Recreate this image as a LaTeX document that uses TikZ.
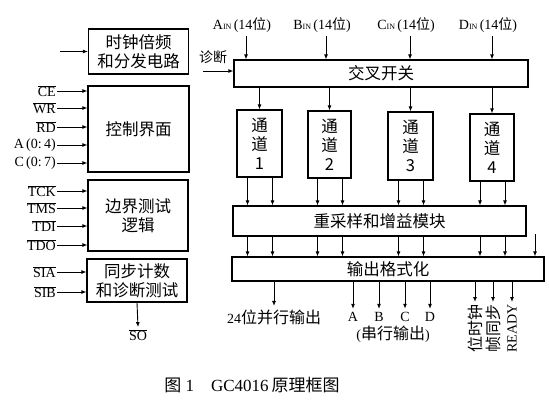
\documentclass[tikz,border=0pt]{standalone}
\usepackage{fontspec}
\setmainfont{Liberation Serif}
\newfontfamily\cjk{Noto Sans CJK SC}
\usetikzlibrary{arrows.meta, positioning, calc}
\newcommand{\ovl}[1]{$\overline{\mbox{#1}}$}

\begin{document}
\begin{tikzpicture}[x=1pt, y=-1pt, font=\fontsize{14}{16}\selectfont,
  blk/.style={draw, line width=1.2pt, font=\cjk\fontsize{16.5}{19}\selectfont, align=center, inner sep=0pt},
  zh/.style={font=\cjk\fontsize{14}{16}\selectfont},
  sig/.style={-{Latex[length=5pt,width=4pt]}, line width=0.9pt}]
\useasboundingbox (0,0) rectangle (549,404);

% left column
\node[blk, minimum width=100pt, minimum height=45pt] (clk) at (138.5,51.5) {时钟倍频\\和分发电路};
\node[blk, minimum width=101pt, minimum height=86pt] (ctrl) at (138.5,129) {控制界面};
\node[blk, minimum width=100pt, minimum height=71pt] (jtag) at (138,215.5) {边界测试\\逻辑};
\node[blk, minimum width=100pt, minimum height=43pt] (sync) at (137,280.5) {同步计数\\和诊断测试};

\coordinate (clkin) at (60,51.5);
\draw[sig] (clkin) -- (clk.west);
\foreach \n/\y/\t/\b in {ce/91/\ovl{CE}/ctrl, wr/108/\ovl{WR}/ctrl, rd/127/\ovl{RD}/ctrl,
    aa/145/A\,(0:\,4)/ctrl, cc/163/C\,(0:\,7)/ctrl,
    tck/191/\ovl{TCK}/jtag, tms/208/\ovl{TMS}/jtag, tdi/226/\ovl{TDI}/jtag, tdo/245/\ovl{TDO}/jtag,
    sia/272/\ovl{SIA}/sync, sib/292/\ovl{SIB}/sync} {
  \node[anchor=east, inner sep=1pt] (\n) at (57,\y) {\t};
  \draw[sig] (\n.east) -- (\b.west |- \n.east);
}
\node[inner sep=2pt] (so) at (138,335) {\ovl{SO}};
\draw[sig] (sync.south) -- (so.north);

% crossbar and channels
\node[blk, minimum width=294pt, minimum height=27pt] (xbar) at (381,73.5) {交叉开关};
\node[zh] (diag) at (213,57) {诊断};
\coordinate (diagin) at (203,71);
\draw[sig] (diagin) -- (xbar.west |- diagin);

\foreach \n/\x/\l in {ain/242/A, bin/322/B, cin/406/C, din/488/D} {
  \node (\n) at (\x,25) {\l{\footnotesize IN}\,(14{\cjk 位})};
  \draw[sig] ([xshift=4pt]\n.south) -- ([xshift=4pt]\n.south |- xbar.north);
}

\node[blk, minimum width=45pt, minimum height=67pt] (ch1) at (259.5,143.5) {通\\道\\1};
\node[blk, minimum width=43pt, minimum height=67pt] (ch2) at (329.5,144.5) {通\\道\\2};
\node[blk, minimum width=45pt, minimum height=68pt] (ch3) at (410.5,146) {通\\道\\3};
\node[blk, minimum width=44pt, minimum height=67pt] (ch4) at (492,147.5) {通\\道\\4};

\node[blk, minimum width=293pt, minimum height=30pt] (rs) at (379.5,221) {重采样和增益模块};
\node[blk, minimum width=312pt, minimum height=24pt] (fmt) at (388,269) {输出格式化};

\foreach \c in {ch1, ch2, ch3, ch4} {
  \draw[sig] (xbar.south -| \c) -- (\c.north);
  \foreach \d in {-12, 13} {
    \draw[sig] ([xshift=\d pt]\c.south) -- ([xshift=\d pt]\c.south |- rs.north);
    \draw[sig] ([xshift=\d pt]\c.south |- rs.south) -- ([xshift=\d pt]\c.south |- fmt.north);
  }
}
\coordinate (extin) at (535,234);
\draw[sig] (extin) -- (extin |- fmt.north);

% outputs
\node (par) at (274,317) {24{\cjk\fontsize{16}{18}\selectfont 位并行输出}};
\draw[sig] (fmt.south -| par) -- (par.north);
\foreach \n/\x/\l in {sa/353/A, sb/379/B, sc/405/C, sd/430/D} {
  \node (\n) at (\x,317) {\l};
  \draw[sig] (fmt.south -| \n) -- (\n.north);
}
\node (ser) at (393,334) {({\cjk\fontsize{16}{18}\selectfont 串行输出})};
\foreach \n/\x/\l in {bck/475/{\cjk\fontsize{16}{18}\selectfont 位时钟}, fsy/493/{\cjk\fontsize{16}{18}\selectfont 帧同步}, rdy/512/READY} {
  \node[rotate=90, anchor=east, inner sep=2pt] (\n) at (\x,302) {\l};
  \draw[sig] (fmt.south -| \n) -- (\n.east);
}

\node[font=\fontsize{17}{19}\selectfont] (cap) at (252,385) {{\cjk 图}~1\quad GC4016\,{\cjk 原理框图}};
\end{tikzpicture}
\end{document}
